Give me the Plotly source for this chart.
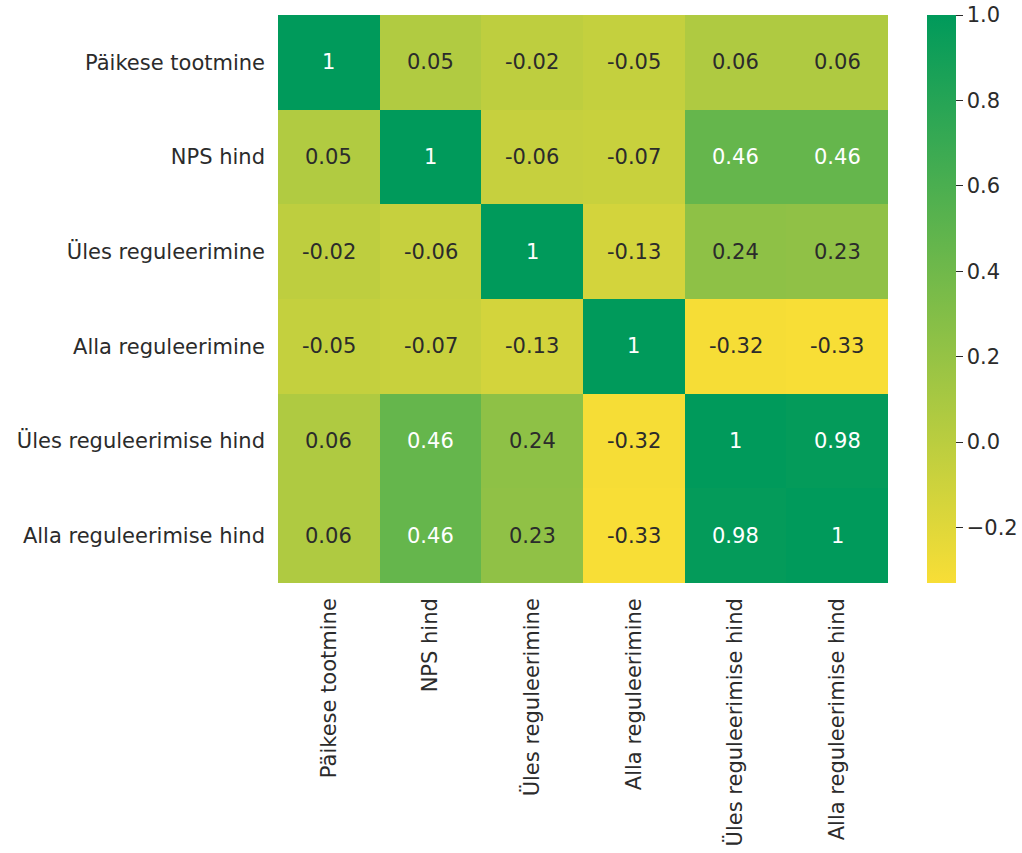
import plotly.graph_objects as go

# Correlation matrix of the variables
labels = [
    "Päikese tootmine",
    "NPS hind",
    "Üles reguleerimine",
    "Alla reguleerimine",
    "Üles reguleerimise hind",
    "Alla reguleerimise hind",
]
corr = [
    [1.00, 0.05, -0.02, -0.05, 0.06, 0.06],
    [0.05, 1.00, -0.06, -0.07, 0.46, 0.46],
    [-0.02, -0.06, 1.00, -0.13, 0.24, 0.23],
    [-0.05, -0.07, -0.13, 1.00, -0.32, -0.33],
    [0.06, 0.46, 0.24, -0.32, 1.00, 0.98],
    [0.06, 0.46, 0.23, -0.33, 0.98, 1.00],
]
cbar_ticks = [-0.2, 0.0, 0.2, 0.4, 0.6, 0.8, 1.0]

zmin = min(min(r) for r in corr)
zmax = max(max(r) for r in corr)

low_rgb = (248, 222, 54)
high_rgb = (0, 154, 91)
colorscale = [[0.0, "rgb(%d,%d,%d)" % low_rgb], [1.0, "rgb(%d,%d,%d)" % high_rgb]]

FONT = "DejaVu Sans"
FS = 21
TXT = "#2b2b2b"


def cell_rgb(v):
    t = (v - zmin) / (zmax - zmin)
    return [a + (b - a) * t for a, b in zip(low_rgb, high_rgb)]


def luminance(rgb):
    out = []
    for c in rgb:
        c = c / 255.0
        out.append(c / 12.92 if c <= 0.03928 else ((c + 0.055) / 1.055) ** 2.4)
    return 0.2126 * out[0] + 0.7152 * out[1] + 0.0722 * out[2]


fig = go.Figure(
    go.Heatmap(
        z=corr,
        x=labels,
        y=labels,
        zmin=zmin,
        zmax=zmax,
        colorscale=colorscale,
        showscale=True,
        hoverinfo="skip",
        colorbar=dict(
            x=1.064,
            xanchor="left",
            xpad=0,
            y=0,
            yanchor="bottom",
            ypad=0,
            len=1,
            lenmode="fraction",
            thickness=29,
            thicknessmode="pixels",
            outlinewidth=0,
            ticks="outside",
            ticklen=7,
            tickwidth=1.2,
            tickcolor=TXT,
            tickvals=cbar_ticks,
            tickformat=".1f",
            tickfont=dict(family=FONT, size=FS, color=TXT),
        ),
    )
)

annotations = []
for i, row in enumerate(corr):
    for j, v in enumerate(row):
        color = "white" if luminance(cell_rgb(v)) < 0.408 else TXT
        annotations.append(
            dict(
                x=labels[j],
                y=labels[i],
                text="{:.2g}".format(v),
                showarrow=False,
                font=dict(family=FONT, size=FS, color=color),
            )
        )

fig.update_layout(
    width=1022,
    height=853,
    margin=dict(l=278, r=134, t=15, b=270, pad=0, autoexpand=False),
    paper_bgcolor="white",
    plot_bgcolor="white",
    font=dict(family=FONT, size=FS, color=TXT),
    annotations=annotations,
    xaxis=dict(
        tickangle=-90,
        ticks="",
        showgrid=False,
        zeroline=False,
        tickfont=dict(family=FONT, size=FS, color=TXT),
        ticklabelstandoff=10,
    ),
    yaxis=dict(
        autorange="reversed",
        ticks="",
        showgrid=False,
        zeroline=False,
        tickfont=dict(family=FONT, size=FS, color=TXT),
        ticklabelstandoff=12,
    ),
)

fig.write_html("out.html")
